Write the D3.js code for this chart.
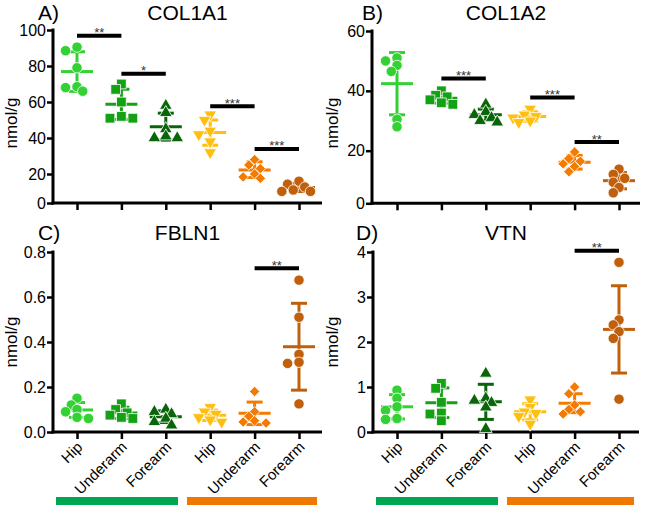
<!DOCTYPE html>
<html><head><meta charset="utf-8">
<script src="https://cdn.jsdelivr.net/npm/d3@7"></script>
<style>
body{margin:0;background:#fff}
svg{display:block;font-family:"Liberation Sans",Arial,Helvetica,sans-serif}
</style>
</head><body>
<svg id="chart" width="645" height="509"></svg>
<script>
// ---------- data ----------
const categories = ["Hip","Underarm","Forearm","Hip","Underarm","Forearm"];
const groupLabels = ["group1","group2"]; // bottom colour bars (first three / last three)

const col1a1Values = [[90.5,88.5,79,68.5,68,66],[70,67,60,52,51,51],[58,54,45,40,40,41],[53,50,44,42,38,32],[28,25,23,20,18,17],[15,13,11,9,8,8]];
const col1a1Mean = [76.9,58.7,46.3,43.0,22.2,10.7];
const col1a1SD = [11.0,8.4,7.5,7.0,4.6,2.8];
const col1a1Ticks = [0,20,40,60,80,100];
const col1a1Sig = [[0,1,"**",96.8],[1,2,"*",75.7],[3,4,"***",57.6],[4,5,"***",33.9]];

const col1a2Values = [[51,50,48.5,46.5,30.5,28],[40,38.5,38,37,36,35.5],[35.5,33,32,31,30,29.5],[34,32,31.5,31,30,29.5],[19.5,17,16,15,14,12],[13,11,9.5,8,6,4]];
const col1a2Mean = [42.4,37.5,32.0,31.4,15.6,8.6];
const col1a2SD = [10.4,1.6,1.9,1.6,2.6,3.1];
const col1a2Ticks = [0,20,40,60];
const col1a2Sig = [[1,2,"***",44.1],[3,4,"***",37.8],[4,5,"**",22.9]];

const fbln1Values = [[0.15,0.12,0.10,0.09,0.065,0.06],[0.125,0.10,0.085,0.075,0.065,0.06],[0.10,0.09,0.08,0.06,0.045,0.03],[0.11,0.09,0.08,0.065,0.055,0.045],[0.18,0.09,0.07,0.05,0.045,0.04],[0.675,0.51,0.345,0.31,0.305,0.125]];
const fbln1Mean = [0.098,0.085,0.068,0.074,0.083,0.379];
const fbln1SD = [0.033,0.025,0.026,0.023,0.050,0.193];
const fbln1Ticks = [0,0.2,0.4,0.6,0.8];
const fbln1Sig = [[4,5,"**",0.728]];

const vtnValues = [[0.93,0.75,0.56,0.48,0.30,0.28],[1.08,0.97,0.66,0.42,0.40,0.25],[1.3,0.75,0.7,0.65,0.55,0.07],[0.72,0.55,0.45,0.42,0.35,0.18],[1.0,0.85,0.6,0.5,0.45,0.4],[3.77,2.49,2.38,2.23,2.08,0.73]];
const vtnMean = [0.56,0.65,0.67,0.45,0.64,2.28];
const vtnSD = [0.27,0.33,0.39,0.18,0.21,0.97];
const vtnTicks = [0,1,2,3,4];
const vtnSig = [[4,5,"**",4.03]];

// ---------- style ----------
const colors = ["#33d133","#14a114","#0a640a","#ffbf10","#f47a00","#c0600c"];
const shapes = ["circle","square","triangle","triangleDown","diamond","circle"];
const barColors = ["#00a650","#f07800"];
const FONT = "'Liberation Sans',Arial,Helvetica,sans-serif";

const svg = d3.select("#chart");

const panels = [
  {letter:"A)", title:"COL1A1", vals:col1a1Values, mean:col1a1Mean, sd:col1a1SD, ticks:col1a1Ticks, sig:col1a1Sig,
   left:53, right:322, xr:[77,299], ydom:[0,20,100], yr:[203,174,30], titleY:20, letterX:38, ylab:[17,123], fmt:d3.format("d"), labels:false},
  {letter:"B)", title:"COL1A2", vals:col1a2Values, mean:col1a2Mean, sd:col1a2SD, ticks:col1a2Ticks, sig:col1a2Sig,
   left:372, right:640, xr:[397,619], ydom:[0,20,60], yr:[203.3,150.7,31], titleY:20, letterX:362, ylab:[338,123], fmt:d3.format("d"), labels:false},
  {letter:"C)", title:"FBLN1", vals:fbln1Values, mean:fbln1Mean, sd:fbln1SD, ticks:fbln1Ticks, sig:fbln1Sig,
   left:53, right:322, xr:[77,299], ydom:[0,0.8], yr:[432,252], titleY:240, letterX:38, ylab:[17,342], fmt:d3.format(".1f"), labels:true},
  {letter:"D)", title:"VTN", vals:vtnValues, mean:vtnMean, sd:vtnSD, ticks:vtnTicks, sig:vtnSig,
   left:373, right:639, xr:[397,619], ydom:[0,4], yr:[432,252], titleY:240, letterX:356, ylab:[338,342], fmt:d3.format("d"), labels:true}
];

function symbolPath(shape){
  if(shape==="circle") return d3.symbol(d3.symbolCircle, 85)();
  if(shape==="square") return d3.symbol(d3.symbolSquare, 95)();
  if(shape==="triangle") return d3.symbol(d3.symbolTriangle, 70)();
  if(shape==="triangleDown") return d3.symbol(d3.symbolTriangle, 70)();
  if(shape==="diamond") return d3.symbol(d3.symbolSquare, 55)();
}
function symbolRot(shape){
  if(shape==="triangleDown") return 180;
  if(shape==="diamond") return 45;
  return 0;
}

// simple dodge layout so overlapping points spread sideways (points may overlap partly)
function dodge(ys, r){
  const placed=[];
  const order = ys.map((y,i)=>i).sort((a,b)=>ys[a]-ys[b]);
  const out = new Array(ys.length);
  order.forEach(i=>{
    const cands=[0];
    for(let k=1;k<4;k++){cands.push(-k*r*1.1, k*r*1.1);}
    for(const dx of cands){
      if(placed.every(p=>Math.hypot(p.x-dx,p.y-ys[i])>=r*1.35)){out[i]=dx;placed.push({x:dx,y:ys[i]});break;}
    }
    if(out[i]===undefined){out[i]=0;}
  });
  return out;
}

panels.forEach(p=>{
  const g = svg.append("g");
  const x = d3.scalePoint().domain(d3.range(categories.length)).range(p.xr);
  const y = d3.scaleLinear().domain(p.ydom).range(p.yr);
  const y0 = y(0);

  // titles
  g.append("text").attr("x",p.letterX).attr("y",p.titleY).attr("font-size",21).text(p.letter);
  g.append("text").attr("x",(p.left+p.right)/2).attr("y",p.titleY).attr("font-size",21).attr("text-anchor","middle").text(p.title);

  // y label
  g.append("text").attr("transform",`translate(${p.ylab[0]},${p.ylab[1]}) rotate(-90)`)
    .attr("text-anchor","middle").attr("font-size",17).text("nmol/g");

  // y axis
  const ya = g.append("g").attr("transform",`translate(${p.left},0)`)
    .call(d3.axisLeft(y).tickValues(p.ticks).tickFormat(p.fmt).tickSize(6).tickSizeOuter(0).tickPadding(1));
  ya.attr("font-family",FONT);
  ya.select(".domain").remove();
  ya.selectAll(".tick line").attr("stroke","#000").attr("stroke-width",2.5);
  ya.selectAll(".tick text").attr("font-size",16).attr("fill","#000");
  g.append("line").attr("x1",p.left).attr("x2",p.left).attr("y1",y(p.ticks[p.ticks.length-1])-1.5).attr("y2",y0+1.5)
    .attr("stroke","#000").attr("stroke-width",3);

  // x axis
  const xa = g.append("g").attr("transform",`translate(0,${y0})`)
    .call(d3.axisBottom(x).tickSize(7).tickSizeOuter(0).tickFormat(i=>p.labels?categories[i]:""));
  xa.attr("font-family",FONT);
  xa.select(".domain").remove();
  xa.selectAll(".tick line").attr("stroke","#000").attr("stroke-width",2.5);
  g.append("line").attr("x1",p.left-1.5).attr("x2",p.right).attr("y1",y0).attr("y2",y0)
    .attr("stroke","#000").attr("stroke-width",3);
  if(p.labels){
    xa.selectAll(".tick text").attr("font-size",15).attr("fill","#000")
      .attr("text-anchor","end").attr("dy",null).attr("y",null)
      .attr("transform","translate(6,16) rotate(-45)");
  }

  // mean & SD
  p.mean.forEach((m,i)=>{
    const cx = x(i), c = colors[i];
    const top = y(m+p.sd[i]), bot = y(Math.max(m-p.sd[i], p.ydom[0]));
    g.append("line").attr("x1",cx).attr("x2",cx).attr("y1",top).attr("y2",bot).attr("stroke",c).attr("stroke-width",3);
    g.append("line").attr("x1",cx-8).attr("x2",cx+8).attr("y1",top).attr("y2",top).attr("stroke",c).attr("stroke-width",3);
    g.append("line").attr("x1",cx-8).attr("x2",cx+8).attr("y1",bot).attr("y2",bot).attr("stroke",c).attr("stroke-width",3);
    g.append("line").attr("x1",cx-16).attr("x2",cx+16).attr("y1",y(m)).attr("y2",y(m)).attr("stroke",c).attr("stroke-width",3);
  });

  // points
  p.vals.forEach((vals,i)=>{
    const ys = vals.map(v=>y(v));
    const dx = dodge(ys,5.2);
    g.selectAll(null).data(vals).join("path")
      .attr("d",symbolPath(shapes[i]))
      .attr("transform",(v,j)=>`translate(${x(i)+dx[j]},${ys[j]}) rotate(${symbolRot(shapes[i])})`)
      .attr("fill",colors[i]).attr("stroke","#fff").attr("stroke-width",0.8);
  });

  // significance bars
  p.sig.forEach(s=>{
    const yy = y(s[3]);
    g.append("line").attr("x1",x(s[0])).attr("x2",x(s[1])).attr("y1",yy).attr("y2",yy)
      .attr("stroke","#000").attr("stroke-width",4);
    g.append("text").attr("x",(x(s[0])+x(s[1]))/2).attr("y",yy+1.5).attr("text-anchor","middle")
      .attr("font-size",13).attr("fill","#333").text(s[2]);
  });

  // group bars under bottom panels
  if(p.labels){
    const half = [[p.left+3, (p.xr[0]+p.xr[1])/2 - 10],[(p.xr[0]+p.xr[1])/2 - 1, p.right-5]];
    half.forEach((h,k)=>{
      g.append("rect").attr("x",h[0]).attr("y",497).attr("width",h[1]-h[0]).attr("height",8)
        .attr("fill",barColors[k]).attr("data-group",groupLabels[k]);
    });
  }
});
</script>
</body></html>
